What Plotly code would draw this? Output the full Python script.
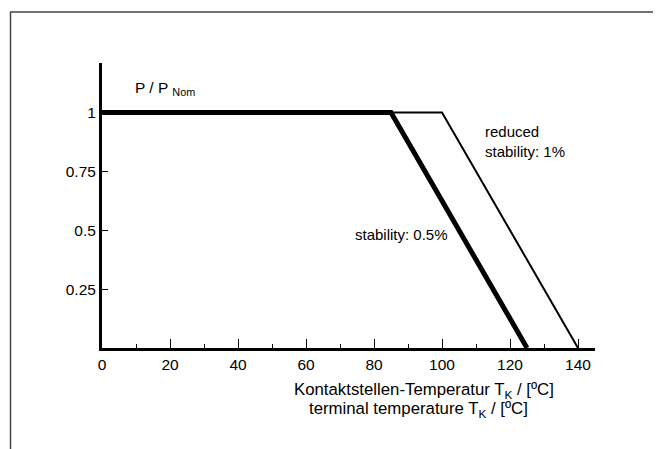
import plotly.graph_objects as go

# Data
temp_stab_05 = [0, 85, 125]
power_stab_05 = [1, 1, 0]
temp_stab_1 = [85, 100, 140]
power_stab_1 = [1, 1, 0]

x_ticks = [0, 20, 40, 60, 80, 100, 120, 140]
y_ticks = [0.25, 0.5, 0.75, 1]
y_tick_text = ["0.25", "0.5", "0.75", "1"]

# page body has an 8px margin; figure is sized to fit the window
OFF = 8
W, H = 661 - OFF, 449 - OFF
L, R, T, B = 94, 66, 55, 101
pw = W - L - R
ph = H - T - B

def px_x(px):  # screenshot pixel -> paper x
    return (px - OFF - L) / pw

def px_y(py):  # screenshot pixel -> paper y
    return (H - B - (py - OFF)) / ph

FONT = "Liberation Sans, Arial, sans-serif"

fig = go.Figure()
fig.add_trace(go.Scatter(x=temp_stab_1, y=power_stab_1, mode="lines",
                         line=dict(color="black", width=2), hoverinfo="skip"))
fig.add_trace(go.Scatter(x=temp_stab_05, y=power_stab_05, mode="lines",
                         line=dict(color="black", width=5), hoverinfo="skip"))

fig.update_layout(
    width=W, height=H,
    margin=dict(l=L, r=R, t=T, b=B),
    paper_bgcolor="white", plot_bgcolor="white",
    showlegend=False,
    font=dict(family=FONT, size=15, color="black"),
    xaxis=dict(range=[0, 145], showgrid=False, zeroline=False,
               showline=True, linecolor="black", linewidth=3,
               tickmode="array", tickvals=x_ticks,
               ticks="inside", ticklen=9, tickwidth=1, tickcolor="black",
               minor=dict(dtick=10, tick0=0, ticks="inside", ticklen=4, tickwidth=1, tickcolor="black"),
               tickfont=dict(size=15.5)),
    yaxis=dict(range=[0, 1.21], showgrid=False, zeroline=False,
               showline=True, linecolor="black", linewidth=3,
               tickmode="array", tickvals=y_ticks, ticktext=y_tick_text,
               ticks="inside", ticklen=6, tickwidth=1, tickcolor="black",
               tickfont=dict(size=15.5)),
)

fig.add_annotation(x=9, y=1.10, xref="x", yref="y", xanchor="left", yanchor="middle",
                   text="P / P <sub>Nom</sub>", showarrow=False, font=dict(size=15.5))
fig.add_annotation(x=112, y=0.877, xref="x", yref="y", xanchor="left", yanchor="middle",
                   text="reduced<br>stability: 1%", align="left", showarrow=False, font=dict(size=15))
fig.add_annotation(x=73.7, y=0.483, xref="x", yref="y", xanchor="left", yanchor="middle",
                   text="stability: 0.5%", showarrow=False, font=dict(size=15))
fig.add_annotation(x=px_x(424), y=px_y(390), xref="paper", yref="paper", xanchor="center", yanchor="middle",
                   text="Kontaktstellen-Temperatur T<sub>K</sub> / [ºC]",
                   showarrow=False, font=dict(size=16.8))
fig.add_annotation(x=px_x(418), y=px_y(409), xref="paper", yref="paper", xanchor="center", yanchor="middle",
                   text="terminal temperature T<sub>K</sub> / [ºC]",
                   showarrow=False, font=dict(size=16.8))

# outer frame (top and left edges)
fig.add_shape(type="line", xref="paper", yref="paper",
              x0=px_x(10), x1=px_x(675), y0=px_y(12), y1=px_y(12),
              line=dict(color="#444444", width=1.5))
fig.add_shape(type="line", xref="paper", yref="paper",
              x0=px_x(10.5), x1=px_x(10.5), y0=px_y(12), y1=px_y(460),
              line=dict(color="#444444", width=1.5))

fig.write_html("out.html")
